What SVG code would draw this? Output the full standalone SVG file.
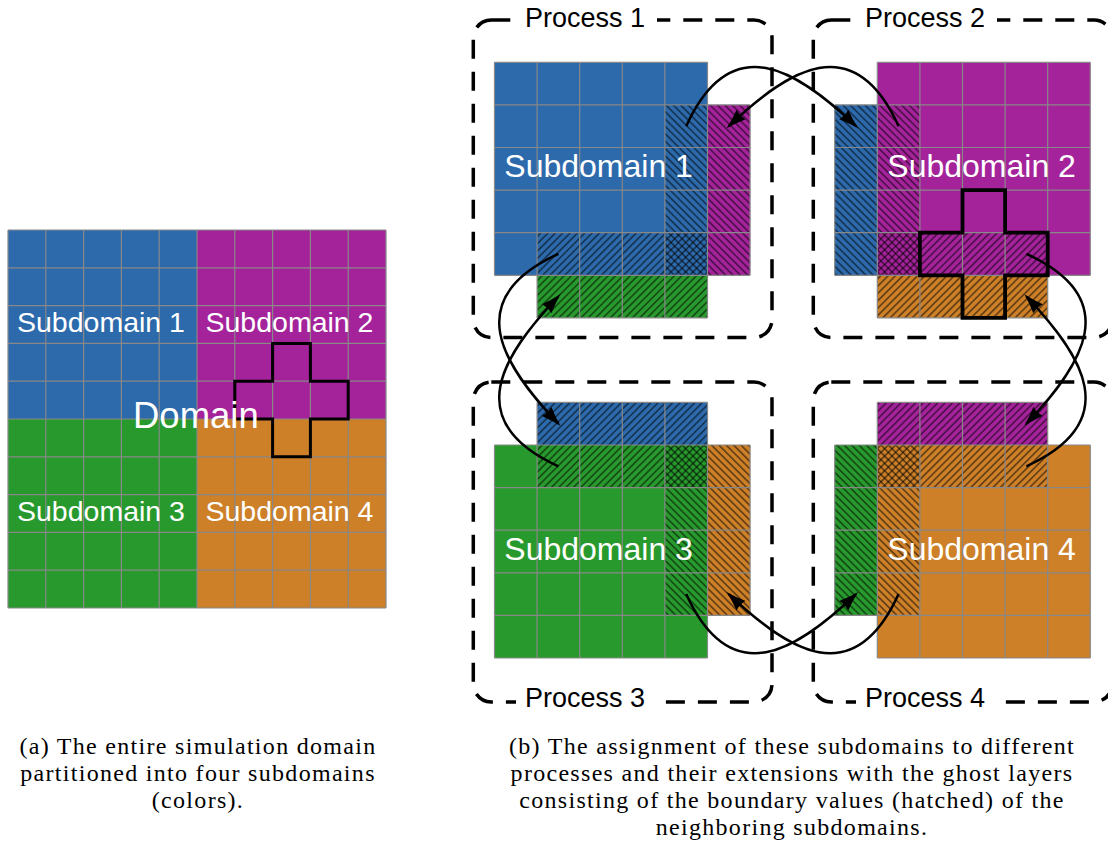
<svg xmlns="http://www.w3.org/2000/svg" width="1108" height="845" viewBox="0 0 1108 845">
  <defs>
    <style>
      .blue { fill: #2c6aac; }
      .purple { fill: #a4229a; }
      .green { fill: #289a2d; }
      .orange { fill: #cd8028; }
      .grid { fill: none; stroke: #888888; stroke-width: 1.2; }
      .ne { fill: url(#hatchNE); }
      .nw { fill: url(#hatchNW); }
      .cross { fill: none; stroke: #000; stroke-linejoin: miter; }
      .proc { fill: none; stroke: #000; stroke-width: 3.5; stroke-dasharray: 19 13; }
      .plabel { font-family: "Liberation Sans", Arial, sans-serif; font-size: 27px; fill: #000; }
      .sub { font-family: "Liberation Sans", Arial, sans-serif; fill: #fff; }
      .arrow { fill: none; stroke: #000; stroke-width: 2.5; marker-end: url(#ah); }
      .cap { font-family: "Liberation Serif", "Times New Roman", serif; font-size: 24px; letter-spacing: 1.3px; fill: #000; text-anchor: middle; }
    </style>
    <!-- "/" hatching -->
    <pattern id="hatchNE" width="5.2" height="5.2" patternUnits="userSpaceOnUse" patternTransform="rotate(45)">
      <line x1="2.6" y1="-1" x2="2.6" y2="6.2" stroke="#000" stroke-width="0.85"/>
    </pattern>
    <!-- "\" hatching -->
    <pattern id="hatchNW" width="5.2" height="5.2" patternUnits="userSpaceOnUse" patternTransform="rotate(-45)">
      <line x1="2.6" y1="-1" x2="2.6" y2="6.2" stroke="#000" stroke-width="0.85"/>
    </pattern>
    <marker id="ah" viewBox="0 0 20 14" refX="17" refY="7" markerWidth="20" markerHeight="14" markerUnits="userSpaceOnUse" orient="auto">
      <path d="M0,0.5 Q10,4.5 20,7 Q10,9.5 0,13.5 Q2,7 0,0.5 Z" fill="#000"/>
    </marker>
  </defs>

  <rect width="1108" height="845" fill="#fff"/>

  <!-- (a) whole domain -->
  <g id="domain">
    <rect class="blue" x="8" y="230" width="189" height="189"/>
    <rect class="purple" x="197" y="230" width="189" height="189"/>
    <rect class="green" x="8" y="419" width="189" height="189"/>
    <rect class="orange" x="197" y="419" width="189" height="189"/>
    <path class="grid" d="M8,230H386 M8,267.8H386 M8,305.6H386 M8,343.4H386 M8,381.2H386 M8,419H386 M8,456.8H386 M8,494.6H386 M8,532.4H386 M8,570.2H386 M8,608H386
      M8,230V608 M45.8,230V608 M83.6,230V608 M121.4,230V608 M159.2,230V608 M197,230V608 M234.8,230V608 M272.6,230V608 M310.4,230V608 M348.2,230V608 M386,230V608"/>
    <path class="cross" stroke-width="3" d="M272.6,343.4H310.4V381.2H348.2V419H310.4V456.8H272.6V419H234.8V381.2H272.6Z"/>
    <text class="sub" x="17" y="332" font-size="28.5">Subdomain 1</text>
    <text class="sub" x="205.5" y="332" font-size="28.5">Subdomain 2</text>
    <text class="sub" x="17" y="520.5" font-size="28.5">Subdomain 3</text>
    <text class="sub" x="205.5" y="520.5" font-size="28.5">Subdomain 4</text>
    <text class="sub" x="133" y="428" font-size="36.5">Domain</text>
  </g>

  <!-- process frames -->
  <g id="frames">
    <rect class="proc" x="473.3" y="20" width="298.7" height="317.5" rx="18"/>
    <rect class="proc" x="813.3" y="20" width="298.7" height="317.5" rx="18"/>
    <rect class="proc" x="473.3" y="382" width="298.7" height="320" rx="18"/>
    <rect class="proc" x="813.3" y="382" width="298.7" height="320" rx="18"/>
    <rect x="516" y="4" width="141" height="32" fill="#fff"/>
    <rect x="856" y="4" width="141" height="32" fill="#fff"/>
    <rect x="516" y="685" width="141" height="32" fill="#fff"/>
    <rect x="856" y="685" width="141" height="32" fill="#fff"/>
    <text class="plabel" x="525" y="27">Process 1</text>
    <text class="plabel" x="865" y="27">Process 2</text>
    <text class="plabel" x="525" y="707">Process 3</text>
    <text class="plabel" x="865" y="707">Process 4</text>
  </g>

  <!-- process 1: subdomain 1 with ghost layers -->
  <g id="process1" transform="translate(494.5,62.3)">
    <rect class="blue" x="0" y="0" width="213" height="213"/>
    <rect class="purple" x="213" y="42.6" width="42.6" height="170.4"/>
    <rect class="green" x="42.6" y="213" width="170.4" height="42.6"/>
    <rect class="nw" x="170.4" y="42.6" width="85.2" height="170.4"/>
    <rect class="ne" x="42.6" y="170.4" width="170.4" height="85.2"/>
    <path class="grid" d="M0,0H213 M0,42.6H255.6 M0,85.2H255.6 M0,127.8H255.6 M0,170.4H255.6 M0,213H255.6 M42.6,255.6H213
      M0,0V213 M42.6,0V255.6 M85.2,0V255.6 M127.8,0V255.6 M170.4,0V255.6 M213,0V255.6 M255.6,42.6V213"/>
    <text class="sub" x="9.8" y="114.4" font-size="32">Subdomain 1</text>
  </g>

  <!-- process 2: subdomain 2 with ghost layers -->
  <g id="process2" transform="translate(877.3,62.3)">
    <rect class="purple" x="0" y="0" width="213" height="213"/>
    <rect class="blue" x="-42.6" y="42.6" width="42.6" height="170.4"/>
    <rect class="orange" x="0" y="213" width="170.4" height="42.6"/>
    <rect class="nw" x="-42.6" y="42.6" width="85.2" height="170.4"/>
    <rect class="ne" x="0" y="170.4" width="170.4" height="85.2"/>
    <path class="grid" d="M0,0H213 M-42.6,42.6H213 M-42.6,85.2H213 M-42.6,127.8H213 M-42.6,170.4H213 M-42.6,213H213 M0,255.6H170.4
      M-42.6,42.6V213 M0,0V255.6 M42.6,0V255.6 M85.2,0V255.6 M127.8,0V255.6 M170.4,0V255.6 M213,0V213"/>
    <path class="cross" stroke-width="3.8" d="M85.2,127.8H127.8V170.4H170.4V213H127.8V255.6H85.2V213H42.6V170.4H85.2Z"/>
    <text class="sub" x="10" y="114.4" font-size="32">Subdomain 2</text>
  </g>

  <!-- process 3: subdomain 3 with ghost layers -->
  <g id="process3" transform="translate(494.5,445)">
    <rect class="green" x="0" y="0" width="213" height="213"/>
    <rect class="blue" x="42.6" y="-42.6" width="170.4" height="42.6"/>
    <rect class="orange" x="213" y="0" width="42.6" height="170.4"/>
    <rect class="ne" x="42.6" y="-42.6" width="170.4" height="85.2"/>
    <rect class="nw" x="170.4" y="0" width="85.2" height="170.4"/>
    <path class="grid" d="M42.6,-42.6H213 M0,0H255.6 M0,42.6H255.6 M0,85.2H255.6 M0,127.8H255.6 M0,170.4H255.6 M0,213H213
      M0,0V213 M42.6,-42.6V213 M85.2,-42.6V213 M127.8,-42.6V213 M170.4,-42.6V213 M213,-42.6V213 M255.6,0V170.4"/>
    <text class="sub" x="9.8" y="115" font-size="32">Subdomain 3</text>
  </g>

  <!-- process 4: subdomain 4 with ghost layers -->
  <g id="process4" transform="translate(877.3,445)">
    <rect class="orange" x="0" y="0" width="213" height="213"/>
    <rect class="purple" x="0" y="-42.6" width="170.4" height="42.6"/>
    <rect class="green" x="-42.6" y="0" width="42.6" height="170.4"/>
    <rect class="ne" x="0" y="-42.6" width="170.4" height="85.2"/>
    <rect class="nw" x="-42.6" y="0" width="85.2" height="170.4"/>
    <path class="grid" d="M0,-42.6H170.4 M-42.6,0H213 M-42.6,42.6H213 M-42.6,85.2H213 M-42.6,127.8H213 M-42.6,170.4H213 M0,213H213
      M-42.6,0V170.4 M0,-42.6V213 M42.6,-42.6V213 M85.2,-42.6V213 M127.8,-42.6V213 M170.4,-42.6V213 M213,0V213"/>
    <text class="sub" x="10" y="115" font-size="32">Subdomain 4</text>
  </g>

  <!-- halo exchange -->
  <g id="connectors">
    <path class="arrow" d="M686.2,126.2 C731.2,27.2 797.2,70.2 856,126.2"/>
    <path class="arrow" d="M898.6,126.2 C853.6,27.2 787.6,70.2 728.8,126.2"/>
    <path class="arrow" d="M686.2,594.1 C731.2,693.1 797.2,650.1 856,594.1"/>
    <path class="arrow" d="M898.6,594.1 C853.6,693.1 787.6,650.1 728.8,594.1"/>
    <path class="arrow" d="M558.4,253.9 C459.4,298.9 502.4,364.9 558.4,423.7"/>
    <path class="arrow" d="M558.4,466.3 C459.4,421.3 502.4,355.3 558.4,296.5"/>
    <path class="arrow" d="M1026.4,253.9 C1125.4,298.9 1082.4,364.9 1026.4,423.7"/>
    <path class="arrow" d="M1026.4,466.3 C1125.4,421.3 1082.4,355.3 1026.4,296.5"/>
  </g>

  <!-- captions -->
  <g id="captions">
    <text class="cap" x="198" y="754">(a) The entire simulation domain</text>
    <text class="cap" x="198" y="781">partitioned into four subdomains</text>
    <text class="cap" x="198" y="808">(colors).</text>
    <text class="cap" x="792" y="754">(b) The assignment of these subdomains to different</text>
    <text class="cap" x="792" y="781">processes and their extensions with the ghost layers</text>
    <text class="cap" x="792" y="808">consisting of the boundary values (hatched) of the</text>
    <text class="cap" x="792" y="835">neighboring subdomains.</text>
  </g>
</svg>
